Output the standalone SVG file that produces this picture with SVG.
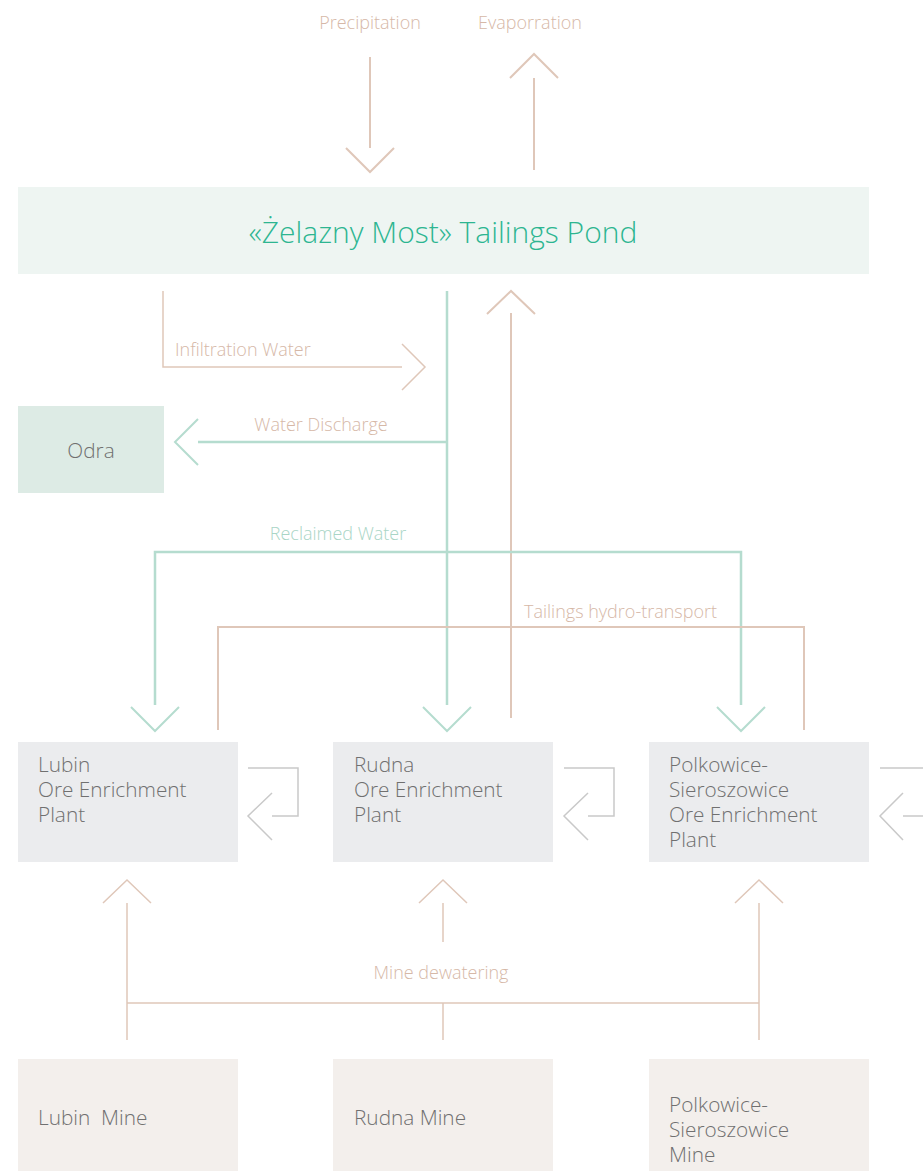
<svg xmlns="http://www.w3.org/2000/svg" width="923" height="1171" viewBox="0 0 923 1171">
<style>
text{font-family:"Open Sans","Liberation Sans",sans-serif;font-weight:300}
.lbl{font-size:18px;fill:#d6b8a7}
.glbl{font-size:18px;fill:#a9d5c6}
.node{font-size:20.8px;fill:#707070}
.tan{stroke:#dfc7b9;fill:none;stroke-width:2}
.tant{stroke:#dfc7b9;fill:none;stroke-width:1.5}
.grn{stroke:#b5dccf;fill:none;stroke-width:2.5}
.gry{stroke:#c9c9c9;fill:none;stroke-width:1.5}
</style>
<rect width="923" height="1171" fill="#ffffff"/>
<g id="pond"><rect x="18" y="187" width="851" height="87" fill="#eef5f2"/><text x="443" y="243" text-anchor="middle" style="font-size:30px;fill:#2db591">«Żelazny Most» Tailings Pond</text></g>
<g id="odra"><rect x="18" y="406" width="146" height="87" fill="#ddebe5"/><text x="91" y="458" text-anchor="middle" class="node">Odra</text></g>
<g id="lubin-plant"><rect x="18" y="742" width="220" height="120" fill="#ebecee"/><text class="node"><tspan x="38" y="772">Lubin</tspan><tspan x="38" y="797">Ore Enrichment</tspan><tspan x="38" y="822">Plant</tspan></text></g>
<g id="rudna-plant"><rect x="333" y="742" width="220" height="120" fill="#ebecee"/><text class="node"><tspan x="354" y="772">Rudna</tspan><tspan x="354" y="797">Ore Enrichment</tspan><tspan x="354" y="822">Plant</tspan></text></g>
<g id="polk-plant"><rect x="649" y="742" width="220" height="120" fill="#ebecee"/><text class="node"><tspan x="669" y="772">Polkowice-</tspan><tspan x="669" y="797">Sieroszowice</tspan><tspan x="669" y="822">Ore Enrichment</tspan><tspan x="669" y="847">Plant</tspan></text></g>
<g id="lubin-mine"><rect x="18" y="1059" width="220" height="112" fill="#f3efec"/><text x="38" y="1125" class="node" xml:space="preserve">Lubin  Mine</text></g>
<g id="rudna-mine"><rect x="333" y="1059" width="220" height="112" fill="#f3efec"/><text x="354" y="1125" class="node">Rudna Mine</text></g>
<g id="polk-mine"><rect x="649" y="1059" width="220" height="112" fill="#f3efec"/><text class="node"><tspan x="669" y="1112">Polkowice-</tspan><tspan x="669" y="1137">Sieroszowice</tspan><tspan x="669" y="1162">Mine</tspan></text></g>
<g id="connectors">
<text x="370" y="29" text-anchor="middle" class="lbl">Precipitation</text>
<path class="tan" d="M370 57V148M346 148L370 172L394 148"/>
<text x="530" y="29" text-anchor="middle" class="lbl">Evaporration</text>
<path class="tan" d="M534 170V78M510 78L534 54L558 78"/>
<path class="tant" d="M163 291V367H402M402 344L425 367L402 390"/>
<text x="175" y="356" class="lbl">Infiltration Water</text>
<path class="grn" d="M447 291V705M447 442H198"/>
<path class="grn" style="stroke-width:2" d="M198 419L175 442L198 465"/>
<text x="321" y="431" text-anchor="middle" class="lbl">Water Discharge</text>
<path class="tan" d="M511 718V313M487 314L511 291L535 314"/>
<path class="grn" d="M155 705V552H741V705"/>
<path class="grn" style="stroke-width:2" d="M131 707L155 731L179 707M423 707L447 731L471 707M717 707L741 731L765 707"/>
<text x="338" y="540" text-anchor="middle" class="glbl">Reclaimed Water</text>
<path class="tan" d="M218 730V627H804V730"/>
<text x="524" y="618" class="lbl">Tailings hydro-transport</text>
<path class="gry" d="M248 768H298V816H272M272 793L248 816L272 840"/>
<path class="gry" d="M564 768H614V816H588M588 793L564 816L588 840"/>
<path class="gry" d="M880 768H923M923 816H903M903 793L880 816L903 840"/>
<path class="tant" d="M127 1040V903M103 903L127 880L151 903M443 903V942M443 1003V1040M419 903L443 880L467 903M759 1040V903M735 903L759 880L783 903M127 1003H759"/>
<text x="441" y="979" text-anchor="middle" class="lbl">Mine dewatering</text>
</g>
</svg>
